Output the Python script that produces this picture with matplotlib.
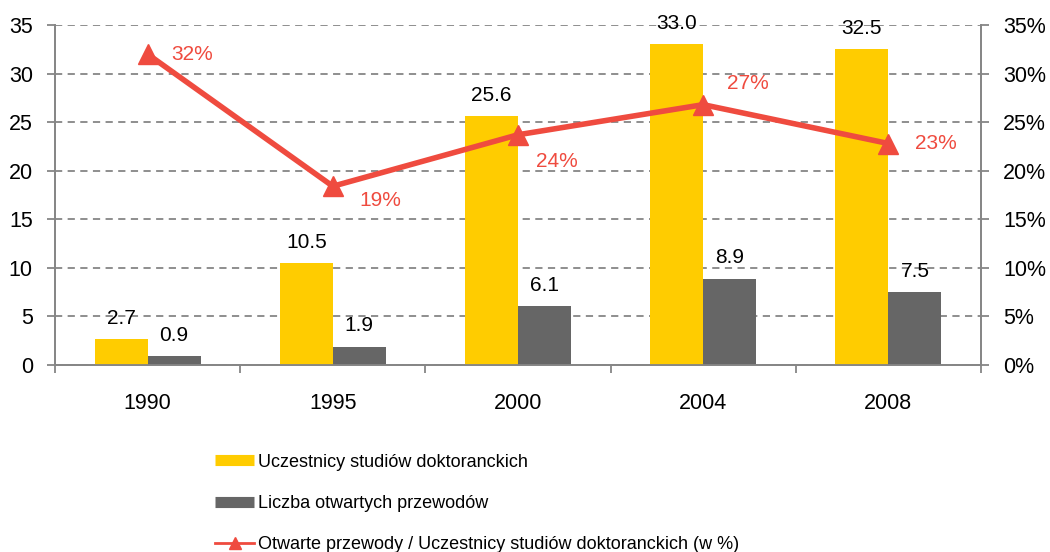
import matplotlib
matplotlib.use('Agg')
import matplotlib.pyplot as plt
from matplotlib.lines import Line2D
import numpy as np

plt.rcParams['font.family'] = ['Liberation Sans', 'DejaVu Sans']

years = ['1990', '1995', '2000', '2004', '2008']
uczestnicy = [2.7, 10.5, 25.6, 33.0, 32.5]
przewody = [0.9, 1.9, 6.1, 8.9, 7.5]
udzial = [0.32, 0.184, 0.237, 0.268, 0.228]
udzial_labels = ['32%', '19%', '24%', '27%', '23%']

yellow = '#FFCC00'
grey = '#666666'
red = '#EF4B3F'
axis_grey = '#868686'

fig = plt.figure(figsize=(10.5, 5.52), dpi=100)
ax = fig.add_axes([0.0524, 0.3388, 0.8819, 0.6159])
x = np.arange(len(years))
w = 0.286

ax.bar(x - w / 2, uczestnicy, w, color=yellow, zorder=3)
ax.bar(x + w / 2, przewody, w, color=grey, zorder=3)
for xi, v in zip(x, uczestnicy):
    ax.annotate(f'{v:.1f}', (xi - w / 2, v), xytext=(0, 8), textcoords='offset points',
                ha='center', va='bottom', fontsize=15, zorder=5)
for xi, v in zip(x, przewody):
    ax.annotate(f'{v:.1f}', (xi + w / 2, v), xytext=(0, 8), textcoords='offset points',
                ha='center', va='bottom', fontsize=15, zorder=5)

ax.set_xlim(-0.5, len(years) - 0.5)
ax.set_ylim(0, 35)
ax.set_yticks(range(0, 36, 5))
ax.grid(axis='y', color=axis_grey, linestyle=(0, (4, 3)), linewidth=1.3, zorder=0)
ax.set_xticks(np.arange(-0.5, len(years), 1))
ax.set_xticklabels([])
ax.set_xticks(x, minor=True)
ax.set_xticklabels(years, minor=True)
ax.tick_params(axis='x', which='minor', length=0, labelsize=15.5, pad=20)
ax.tick_params(axis='x', which='major', length=6, color=axis_grey, width=1.3)
ax.tick_params(axis='y', length=6, color=axis_grey, width=1.3, labelsize=15.5, pad=10)
for s in ['left', 'bottom', 'right']:
    ax.spines[s].set_color(axis_grey)
    ax.spines[s].set_linewidth(1.3)
ax.spines['top'].set_visible(False)

ax2 = ax.twinx()
ax2.set_ylim(0, 0.35)
ax2.set_yticks(np.arange(0, 0.351, 0.05))
ax2.set_yticklabels([f'{int(round(t * 100))}%' for t in np.arange(0, 0.351, 0.05)])
ax2.tick_params(axis='y', length=6, color=axis_grey, width=1.3, labelsize=15.5, pad=10)
for s in ['left', 'bottom', 'right']:
    ax2.spines[s].set_color(axis_grey)
    ax2.spines[s].set_linewidth(1.3)
ax2.spines['top'].set_visible(False)
ax2.plot(x, udzial, color=red, linewidth=4, marker='^', markersize=15, zorder=4)

offsets = [(32, 0), (34, -10), (28, -19), (32, 15), (34, 0)]
for xi, v, lab, off in zip(x, udzial, udzial_labels, offsets):
    ax2.annotate(lab, (xi, v), xytext=off, textcoords='offset points',
                 ha='center', va='center', fontsize=15, color=red)

handles = [
    Line2D([], [], color=yellow, linewidth=8, solid_capstyle='butt'),
    Line2D([], [], color=grey, linewidth=8, solid_capstyle='butt'),
    Line2D([], [], color=red, linewidth=2, marker='^', markersize=8),
]
labels = ['Uczestnicy studiów doktoranckich', 'Liczba otwartych przewodów',
          'Otwarte przewody / Uczestnicy studiów doktoranckich (w %)']
fig.legend(handles, labels, loc='upper left', bbox_to_anchor=(0.2045, 0.178), frameon=False,
           fontsize=13, handlelength=2.2, handletextpad=0.2, labelspacing=1.35,
           borderaxespad=0, borderpad=0)

fig.savefig('out.png', dpi=100)
